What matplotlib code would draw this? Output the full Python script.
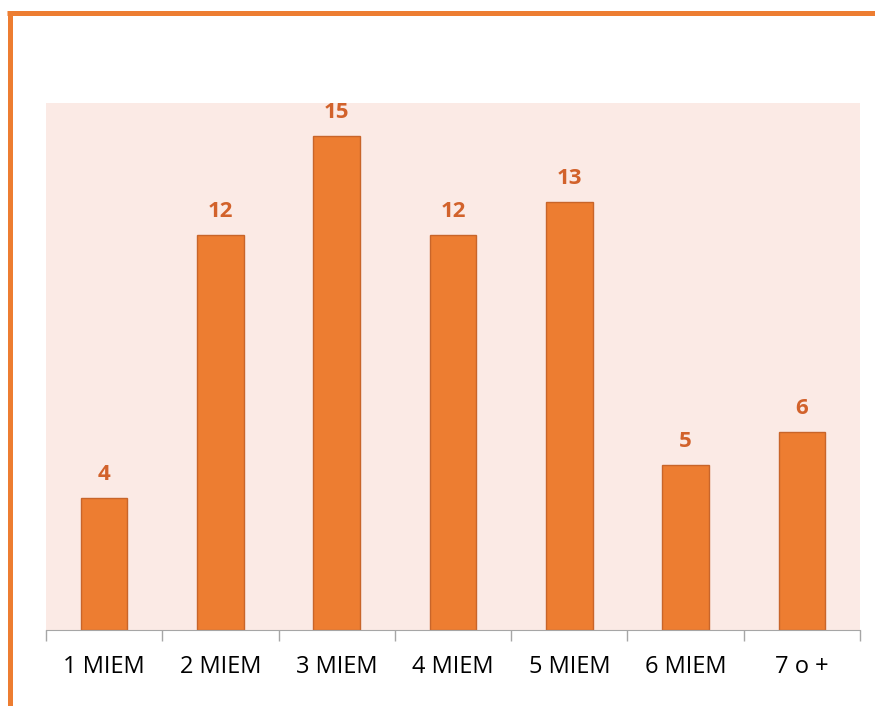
import matplotlib as mpl
mpl.use("Agg")
import matplotlib.pyplot as plt
from matplotlib.lines import Line2D

categories = ["1 MIEM", "2 MIEM", "3 MIEM", "4 MIEM", "5 MIEM", "6 MIEM", "7 o +"]
values = [4, 12, 15, 12, 13, 5, 6]

ORANGE = "#ED7D31"
EDGE = "#C8652A"
LABEL = "#D2622B"
BG = "#FBEAE5"

plt.rcParams["font.family"] = ["Open Sans", "DejaVu Sans"]

fig = plt.figure(figsize=(8.75, 7.06), dpi=100)
ax = fig.add_axes([46 / 875, 76 / 706, 814 / 875, 527 / 706])
ax.set_facecolor(BG)

x = range(len(categories))
bars = ax.bar(x, values, width=0.4, color=ORANGE, edgecolor=EDGE, linewidth=1)
for b, v in zip(bars, values):
    ax.text(b.get_x() + b.get_width() / 2, v + 0.4, str(v), ha="center", va="bottom",
            fontsize=16, fontweight="bold", color=LABEL)

ax.set_xlim(-0.5, len(categories) - 0.5)
ax.set_ylim(0, 16)
ax.set_yticks([])
for s in ["top", "left", "right"]:
    ax.spines[s].set_visible(False)
ax.spines["bottom"].set_color("#A6A6A6")
ax.set_xticks([i - 0.5 for i in range(len(categories) + 1)], minor=False)
ax.set_xticklabels([])
ax.tick_params(axis="x", which="major", length=8, color="#A6A6A6", width=1)
ax.set_xticks(list(x), minor=True)
ax.set_xticklabels(categories, minor=True, fontsize=17, color="black")
ax.tick_params(axis="x", which="minor", length=0, pad=18)

# orange frame at top and left
fig.add_artist(Line2D([7 / 875, 1], [1 - 13 / 706, 1 - 13 / 706], color=ORANGE, lw=3.6,
                      transform=fig.transFigure, solid_capstyle="butt"))
fig.add_artist(Line2D([9.5 / 875, 9.5 / 875], [0, 1 - 11 / 706], color=ORANGE, lw=3.6,
                      transform=fig.transFigure, solid_capstyle="butt"))

fig.savefig("out.png", dpi=100)
